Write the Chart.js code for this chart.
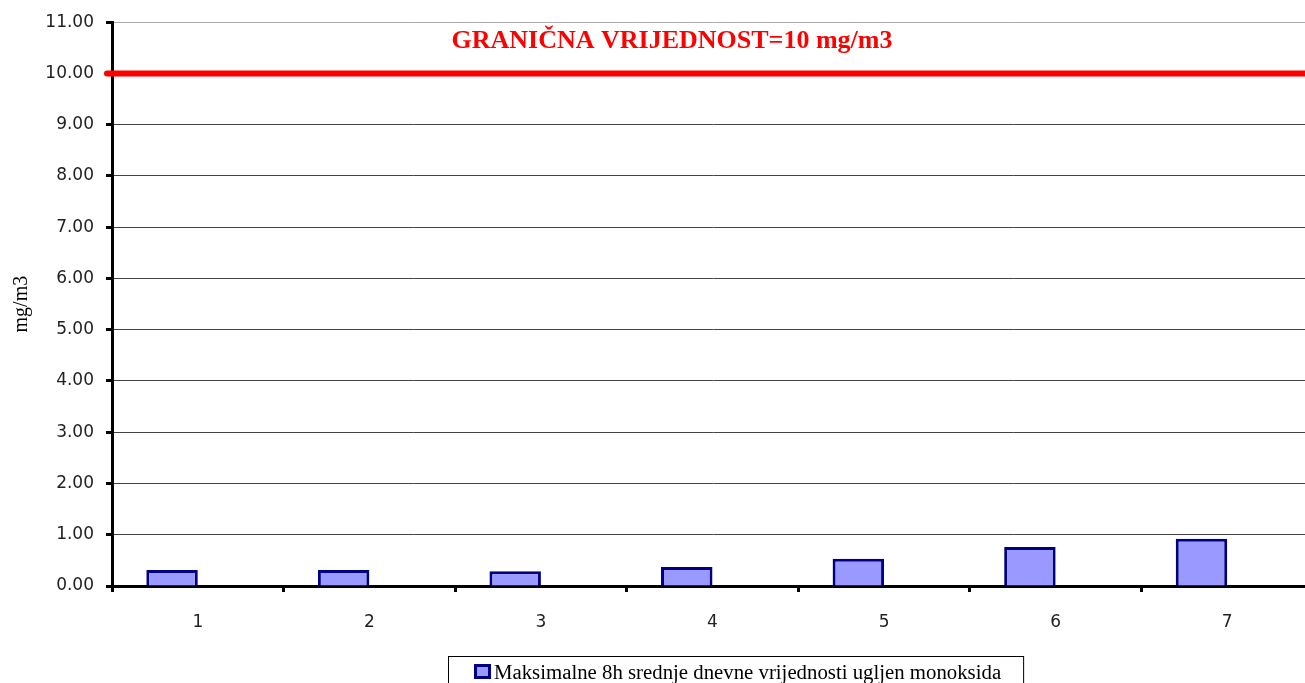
<!DOCTYPE html>
<html>
<head>
<meta charset="utf-8">
<script src="https://cdn.jsdelivr.net/npm/chart.js@4"></script>
<style>
  html, body { margin: 0; padding: 0; background: #fff; overflow: hidden; }
  #wrap { width: 1313px; height: 683px; }
</style>
</head>
<body>
<div id="wrap"><canvas id="cCanvas"></canvas></div>
<script>
// values
const days = ['1', '2', '3', '4', '5', '6', '7'];
const coValues = [0.31, 0.31, 0.29, 0.37, 0.53, 0.76, 0.92];
const limitValue = 10;
const limitText = 'GRANIČNA VRIJEDNOST=10 mg/m3';
const seriesLabel = 'Maksimalne 8h srednje dnevne vrijednosti ugljen monoksida';

const limitLine = {
  id: 'limitLine',
  afterDatasetsDraw(chart) {
    const ctx = chart.ctx;
    const y = chart.scales.y.getPixelForValue(limitValue);
    const area = chart.chartArea;
    ctx.save();
    ctx.strokeStyle = '#ff0000';
    ctx.lineWidth = 6;
    ctx.lineCap = 'round';
    ctx.beginPath();
    ctx.moveTo(area.left - 5, y);
    ctx.lineTo(area.right, y);
    ctx.stroke();
    ctx.fillStyle = '#ff0000';
    ctx.font = 'bold 26px "Liberation Serif"';
    ctx.textAlign = 'center';
    ctx.textBaseline = 'alphabetic';
    ctx.fillText(limitText, area.left + 560, 48);
    ctx.restore();
  }
};

// boxed legend like the spreadsheet one, sitting right of centre
const boxedLegend = {
  id: 'boxedLegend',
  afterDraw(chart) {
    const ds = chart.data.datasets[0];
    const ctx = chart.ctx;
    ctx.save();
    ctx.font = '20.8px "Liberation Serif"';
    const tw = ctx.measureText(ds.label).width;
    const x0 = 474;
    ctx.strokeStyle = '#000';
    ctx.lineWidth = 1;
    ctx.strokeRect(448.5, 656.5, (x0 + 20 + tw + 22) - 448, 40);
    ctx.fillStyle = ds.backgroundColor;
    ctx.fillRect(x0, 664, 17, 15);
    ctx.strokeStyle = ds.borderColor;
    ctx.lineWidth = 3;
    ctx.strokeRect(x0 + 1.5, 665.5, 14, 12);
    ctx.fillStyle = '#000';
    ctx.textBaseline = 'alphabetic';
    ctx.fillText(ds.label, x0 + 20, 679);
    ctx.restore();
  }
};

new Chart(
  document.getElementById('cCanvas'),
  {
    type: 'bar',
    plugins: [limitLine, boxedLegend],
    data: {
      labels: days,
      datasets: [
        {
          label: seriesLabel,
          data: coValues,
          backgroundColor: '#9999ff',
          borderColor: '#000080',
          borderWidth: 3,
          categoryPercentage: 0.6,
          barPercentage: 1
        },
        {
          label: '',
          data: days.map(() => null),
          categoryPercentage: 0.6,
          barPercentage: 1
        }
      ]
    },
    options: {
      responsive: true,
      maintainAspectRatio: false,
      animation: false,
      layout: { padding: { top: 22, right: 0, left: 0, bottom: 33 } },
      plugins: {
        tooltip: { enabled: false },
        legend: { display: false }
      },
      scales: {
        x: {
          afterFit: scale => { scale.height = 64; },
          border: { color: '#000', width: 3 },
          grid: {
            offset: true,
            drawOnChartArea: false,
            drawTicks: true,
            tickLength: 6,
            tickColor: '#000',
            tickWidth: 3
          },
          ticks: {
            color: '#222',
            padding: 20,
            font: { family: '"DejaVu Sans"', size: 17 }
          }
        },
        y: {
          min: 0,
          max: 11,
          afterFit: scale => { scale.width = 112; },
          border: { color: '#000', width: 3 },
          grid: {
            color: ctx => ctx.tick && ctx.tick.value === 11 ? '#aaaaaa' : '#444444',
            lineWidth: 1,
            tickLength: 6,
            tickColor: '#000',
            tickWidth: 3
          },
          ticks: {
            stepSize: 1,
            color: '#222',
            padding: 12,
            callback: value => value.toFixed(2),
            font: { family: '"DejaVu Sans"', size: 17 }
          },
          title: {
            display: true,
            text: 'mg/m3',
            color: '#000',
            padding: { top: 10, bottom: 0 },
            font: { family: '"Liberation Serif"', size: 20 }
          }
        }
      }
    }
  }
);
</script>
</body>
</html>
